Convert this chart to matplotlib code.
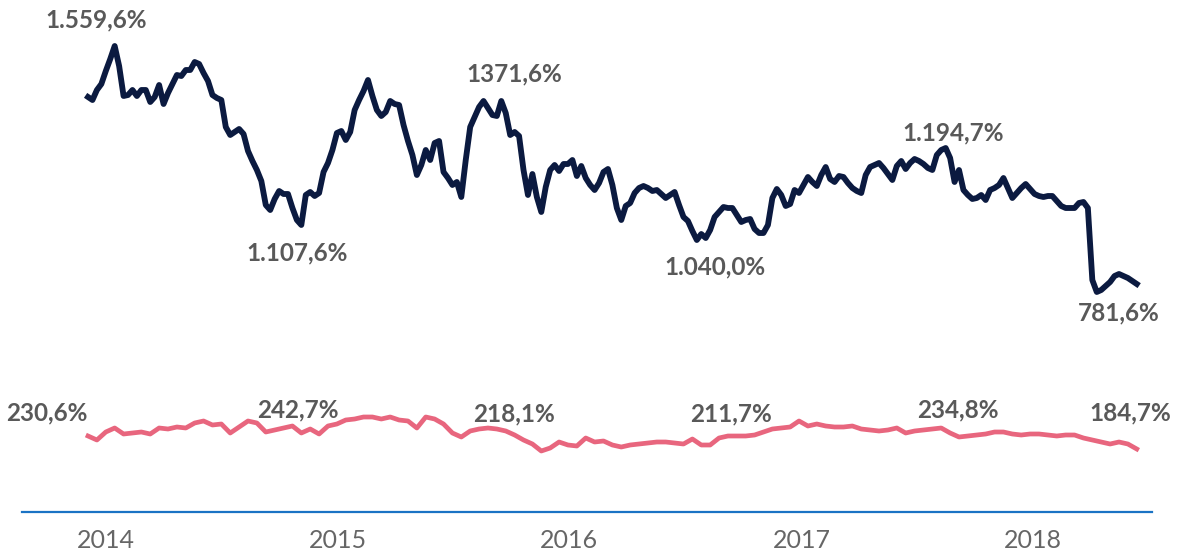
import numpy as np
import pandas as pd
import matplotlib
matplotlib.use("Agg")
import matplotlib.pyplot as plt
import matplotlib.dates as mdates

plt.rcParams["font.family"] = ["Lato", "DejaVu Sans"]

# Dark line: weekly readings (%), starting early Dec 2013
navy_start = "2013-12-04"
navy_values = [
    1404, 1395, 1425, 1443, 1482, 1518, 1557, 1497, 1407, 1410,
    1425, 1407, 1425, 1425, 1389, 1404, 1440, 1383, 1416, 1443,
    1470, 1467, 1485, 1485, 1509, 1503, 1476, 1452, 1410, 1401,
    1395, 1314, 1290, 1299, 1308, 1293, 1242, 1212, 1185, 1152,
    1080, 1065, 1098, 1122, 1113, 1113, 1071, 1035, 1020, 1110,
    1119, 1107, 1116, 1179, 1206, 1245, 1296, 1302, 1275, 1299,
    1365, 1395, 1422, 1455, 1407, 1365, 1347, 1359, 1392, 1383,
    1380, 1320, 1272, 1230, 1170, 1200, 1245, 1215, 1266, 1272,
    1179, 1161, 1140, 1149, 1104, 1215, 1314, 1344, 1374, 1392,
    1371, 1350, 1347, 1392, 1356, 1290, 1299, 1287, 1185, 1110,
    1173, 1104, 1059, 1134, 1185, 1200, 1182, 1203, 1203, 1215,
    1167, 1197, 1161, 1140, 1125, 1146, 1179, 1188, 1140, 1071,
    1035, 1077, 1086, 1116, 1131, 1137, 1131, 1122, 1125, 1113,
    1101, 1110, 1119, 1080, 1044, 1032, 1002, 975, 993, 981,
    1005, 1044, 1059, 1074, 1071, 1071, 1050, 1029, 1035, 1038,
    1008, 996, 996, 1020, 1101, 1128, 1110, 1077, 1083, 1125,
    1116, 1140, 1164, 1149, 1137, 1170, 1194, 1158, 1149, 1167,
    1164, 1146, 1131, 1122, 1116, 1170, 1194, 1200, 1206, 1191,
    1173, 1155, 1197, 1212, 1188, 1206, 1218, 1212, 1203, 1191,
    1185, 1230, 1245, 1251, 1221, 1149, 1185, 1125, 1110, 1098,
    1101, 1110, 1095, 1125, 1131, 1140, 1161, 1131, 1101, 1116,
    1131, 1143, 1128, 1113, 1107, 1104, 1107, 1107, 1092, 1077,
    1071, 1071, 1071, 1086, 1089, 1071, 855, 819, 825, 837,
    849, 867, 873, 867, 861, 852, 843,
]

# Pink line: biweekly readings (%)
pink_start = "2013-12-04"
pink_values = [
    232, 228, 236, 240, 234, 235, 236, 234, 240, 239,
    241, 240, 245, 247, 243, 244, 235, 241, 247, 245,
    236, 238, 240, 242, 235, 239, 234, 242, 244, 248,
    249, 251, 251, 249, 251, 248, 247, 240, 251, 249,
    244, 235, 231, 237, 239, 240, 239, 237, 233, 228,
    224, 217, 220, 226, 223, 222, 230, 226, 227, 223,
    221, 223, 224, 225, 226, 226, 225, 224, 229, 223,
    223, 230, 232, 232, 232, 233, 236, 239, 240, 241,
    247, 242, 244, 242, 241, 241, 242, 239, 238, 237,
    238, 240, 235, 237, 238, 239, 240, 235, 231, 232,
    233, 234, 236, 236, 234, 233, 234, 234, 233, 232,
    233, 233, 230, 228, 226, 224, 226, 224, 219,
]

years = [2014, 2015, 2016, 2017, 2018]

# annotation texts and the point each one belongs to
navy_label_idx = [6, 48, 89, 137, 193, 227]
navy_label_txt = ["1.559,6%", "1.107,6%", "1371,6%", "1.040,0%", "1.194,7%", "781,6%"]
pink_label_idx = [0, 23, 51, 72, 98, 118]
pink_label_txt = ["230,6%", "242,7%", "218,1%", "211,7%", "234,8%", "184,7%"]

navy_dates = pd.date_range(navy_start, periods=len(navy_values), freq="7D")
pink_dates = pd.date_range(pink_start, periods=len(pink_values), freq="14D")

fig = plt.figure(figsize=(11.78, 5.53), dpi=100)
ax = fig.add_axes([22 / 1178, 41 / 553, 1130 / 1178, 512 / 553])
ax2 = ax.twinx()

ax.plot(navy_dates, navy_values, color="#0b1a40", lw=4.2, solid_joinstyle="round")
ax2.plot(pink_dates, pink_values, color="#e8667e", lw=3.4, solid_joinstyle="round")

ax.set_xlim(pd.Timestamp("2013-08-22"), pd.Timestamp("2018-07-07"))
ax.set_ylim(159, 1695)
ax2.set_ylim(156, 668)

label_style = dict(textcoords="offset pixels", ha="center", va="center",
                   fontsize=17.5, fontweight="bold", color="#595959")
navy_offsets = [(-19, 26), (-4, -28), (31, 27), (18, -27), (7, 15), (22, -21)]
for i, txt, off in zip(navy_label_idx, navy_label_txt, navy_offsets):
    ax.annotate(txt, (navy_dates[i], navy_values[i]), xytext=off, **label_style)

pink_offsets = [(-41, 23), (5, 16), (-27, 37), (3, 22), (-1, 27), (-6, 36)]
for i, txt, off in zip(pink_label_idx, pink_label_txt, pink_offsets):
    ax2.annotate(txt, (pink_dates[i], pink_values[i]), xytext=off, **label_style)

ax.set_xticks([pd.Timestamp(f"{y}-01-01") for y in years])
ax.xaxis.set_major_formatter(mdates.DateFormatter("%Y"))
ax.tick_params(axis="x", length=0, pad=12, labelsize=18, labelcolor="#666666")
ax.set_yticks([])
ax2.set_yticks([])

for a in (ax, ax2):
    for s in ("top", "left", "right"):
        a.spines[s].set_visible(False)
ax2.spines["bottom"].set_visible(False)
ax.spines["bottom"].set_color("#1a73c4")
ax.spines["bottom"].set_linewidth(1.6)

fig.savefig("out.png", dpi=100)
